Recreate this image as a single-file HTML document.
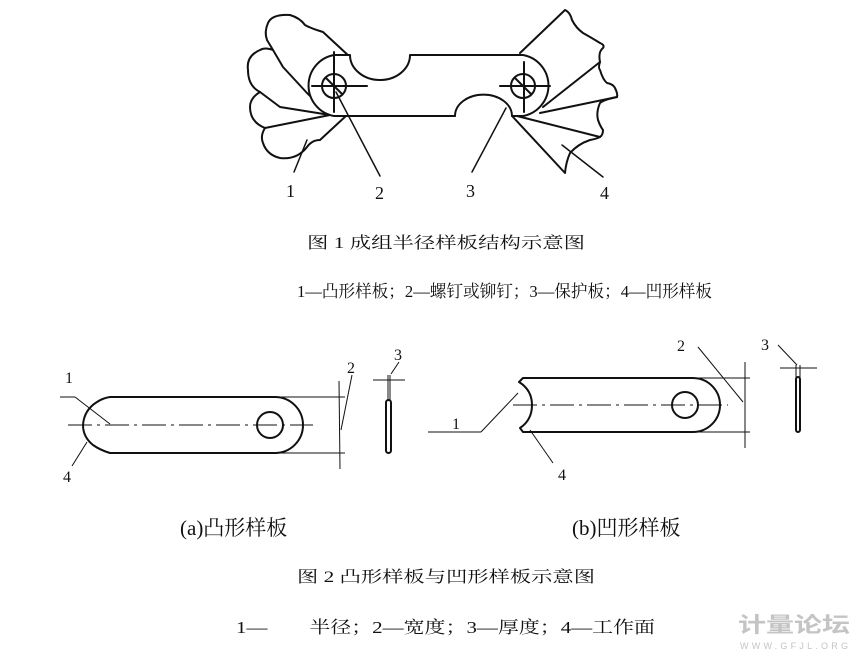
<!DOCTYPE html>
<html><head><meta charset="utf-8"><style>
html,body{margin:0;padding:0;background:#fff;}
svg{display:block;}
text{font-family:"Liberation Serif","Noto Serif CJK SC","Noto Sans CJK SC",serif;fill:#111;}
</style></head><body>
<svg width="860" height="659" viewBox="0 0 860 659" xmlns="http://www.w3.org/2000/svg">
<g fill="none" stroke="#111" stroke-width="2" stroke-linejoin="round" stroke-linecap="round">
<!-- left convex gauges fan -->
<path d="M350,57 L323,32 Q310,28 305,25 Q300,18 290,15 Q272,14 268,23 Q264,32 267,40 L273,50 L283,67 L307,93 L330,115"/>
<path d="M273,50 Q265,47 260,50 Q246,56 248,70 Q248,86 260,92 L280,107 L330,115"/>
<path d="M260,92 Q250,98 250,107 Q250,122 265,128 L330,115"/>
<path d="M265,128 Q260,136 263,143 Q267,155 280,158 Q297,160 307,147 Q312,140 320,140 L347,115"/>
<!-- right concave gauges fan -->
<path d="M520,53 L565,10 Q570,12 572,20 Q576,28 583,33 Q592,38 600,43 Q605,45 603,48 Q598,52 600,62 L543,107"/>
<path d="M600,62 Q598,68 600,70 Q603,80 607,83 Q613,84 615,88 Q618,94 617,97 L540,113"/>
<path d="M617,97 Q603,100 600,103 Q596,112 598,120 Q600,126 603,130 Q603,135 600,137 L513,115"/>
<path d="M513,117 L565,173 Q566,162 570,153 Q578,144 590,140 Q596,139 600,137"/>
<!-- bar -->
<path d="M334,55 L523,55 A31,31 0 0 1 523,116 L334,116 A31,31 0 0 1 334,55 Z" fill="#fff"/>
<line x1="351" y1="55" x2="409" y2="55" stroke="#fff" stroke-width="3"/>
<path d="M350,55 A30,25 0 0 0 410,55"/>
<line x1="457" y1="116" x2="510" y2="116" stroke="#fff" stroke-width="3"/>
<path d="M455,116 A28,21 0 0 1 512,116"/>
<circle cx="334" cy="86" r="12"/>
<circle cx="523" cy="86" r="12"/>
<line x1="312" y1="86" x2="367" y2="86"/><line x1="334" y1="52" x2="334" y2="112"/>
<line x1="500" y1="86" x2="550" y2="86"/><line x1="524" y1="62" x2="524" y2="112"/>
<line x1="326" y1="78" x2="342" y2="94"/><line x1="515" y1="78" x2="531" y2="94"/>
<!-- leaders fig1 -->
<line x1="294" y1="172" x2="307" y2="140" stroke-width="1.5"/>
<line x1="380" y1="176" x2="336" y2="92" stroke-width="1.5"/>
<line x1="472" y1="172" x2="506" y2="108" stroke-width="1.5"/>
<line x1="603" y1="177" x2="562" y2="145" stroke-width="1.5"/>
</g>
<g font-size="18">
<text x="286" y="197">1</text><text x="375" y="199">2</text><text x="466" y="197">3</text><text x="600" y="199">4</text>
</g>
<text x="307" y="248" font-size="16" textLength="278" lengthAdjust="spacingAndGlyphs">图 1 成组半径样板结构示意图</text>
<text x="297" y="297" font-size="17" textLength="415" lengthAdjust="spacingAndGlyphs">1—凸形样板；2—螺钉或铆钉；3—保护板；4—凹形样板</text>

<!-- Fig 2a -->
<g fill="none" stroke="#111" stroke-width="2" stroke-linejoin="round">
<path d="M110,397 L275,397 A28,28 0 0 1 275,453 L110,453 Q100,450 93,445 Q83,437 83,425 Q84,410 97,402 Q103,398 110,397 Z"/>
<circle cx="270" cy="425" r="13"/>
<rect x="386" y="400" width="5" height="53" rx="2.5"/>
</g>
<g fill="none" stroke="#111" stroke-width="1">
<line x1="68" y1="425" x2="313" y2="425" stroke-dasharray="24,5,3,5"/>
<line x1="275" y1="397" x2="345" y2="397"/><line x1="275" y1="453" x2="345" y2="453"/>
<line x1="339" y1="381" x2="340" y2="469"/>
<line x1="352" y1="375" x2="341" y2="430"/>
<line x1="60" y1="397" x2="75" y2="397"/><line x1="75" y1="397" x2="110" y2="424"/>
<line x1="72" y1="466" x2="87" y2="442"/>
<line x1="388" y1="375" x2="388" y2="400"/><line x1="390" y1="375" x2="390" y2="400"/>
<line x1="373" y1="380" x2="405" y2="380"/>
<line x1="391" y1="374" x2="399" y2="362"/>
</g>
<g font-size="16">
<text x="65" y="383">1</text><text x="347" y="373">2</text><text x="394" y="360">3</text><text x="63" y="482">4</text>
</g>

<!-- Fig 2b -->
<g fill="none" stroke="#111" stroke-width="2" stroke-linejoin="round">
<path d="M523,378 L693,378 A27,27 0 0 1 693,432 L523,432 L520,428 Q532,420 532,405 Q532,390 519,382 Z"/>
<circle cx="685" cy="405" r="13"/>
<rect x="796" y="377" width="4" height="55" rx="2"/>
</g>
<g fill="none" stroke="#111" stroke-width="1">
<line x1="513" y1="405" x2="728" y2="405" stroke-dasharray="24,5,3,5"/>
<line x1="693" y1="378" x2="750" y2="378"/><line x1="693" y1="432" x2="750" y2="432"/>
<line x1="745" y1="362" x2="745" y2="448"/>
<line x1="698" y1="347" x2="743" y2="402"/>
<line x1="428" y1="432" x2="481" y2="432"/><line x1="481" y1="432" x2="518" y2="393"/>
<line x1="553" y1="463" x2="530" y2="430"/>
<line x1="780" y1="368" x2="817" y2="368"/>
<line x1="796" y1="365" x2="796" y2="377"/><line x1="800" y1="365" x2="800" y2="377"/>
<line x1="778" y1="345" x2="797" y2="365"/>
</g>
<g font-size="16">
<text x="677" y="351">2</text><text x="452" y="429">1</text><text x="761" y="350">3</text><text x="558" y="480">4</text>
</g>

<text x="180" y="535" font-size="21">(a)凸形样板</text>
<text x="572" y="535" font-size="21">(b)凹形样板</text>
<text x="297" y="582" font-size="16" textLength="298" lengthAdjust="spacingAndGlyphs">图 2 凸形样板与凹形样板示意图</text>
<text x="236" y="633" font-size="17" textLength="419" lengthAdjust="spacingAndGlyphs">1—　　半径；2—宽度；3—厚度；4—工作面</text>

<text x="738" y="632" font-size="21" font-weight="bold" style="font-family:'Noto Sans CJK SC',sans-serif;fill:#c4c4c4" textLength="112" lengthAdjust="spacingAndGlyphs">计量论坛</text>
<text x="740" y="649" font-size="9" style="font-family:'Liberation Sans',sans-serif;fill:#c4c4c4" textLength="108">WWW.GFJL.ORG</text>
</svg>
</body></html>
